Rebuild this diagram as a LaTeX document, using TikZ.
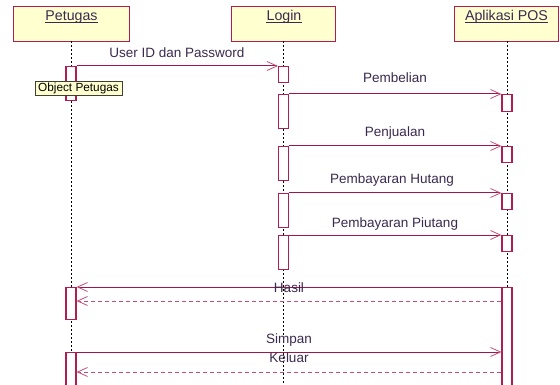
\documentclass[tikz,border=0pt]{standalone}
\usepackage{fontspec}
\setmainfont{Liberation Sans}
\usetikzlibrary{arrows.meta}
\definecolor{boxborder}{HTML}{B01E50}
\definecolor{boxfill}{HTML}{FFFFD0}
\definecolor{msgline}{HTML}{A0164A}
\definecolor{retline}{HTML}{C0507A}
\definecolor{txt}{HTML}{3A2A50}
\definecolor{notebd}{HTML}{404030}
\begin{document}
\begin{tikzpicture}[x=1pt,y=-1pt,
 head/.style={draw=boxborder, fill=boxfill, line width=1.2pt, minimum height=35pt, inner sep=0, anchor=north west},
 title/.style={text=txt, font=\fontsize{14.2}{16}\selectfont, inner sep=0, anchor=base},
 life/.style={draw=black, line width=0.9pt, dash pattern=on 2pt off 2pt},
 act/.style={draw=boxborder, fill=white, line width=1.1pt, minimum width=10pt, inner sep=0, anchor=north},
 tipx/.style={-{Straight Barb[length=10pt,width=9pt,line width=0.8pt,color=retline]}},
 msg/.style={draw=msgline, line width=1pt, tipx},
 ret/.style={draw=retline, line width=1pt, dash pattern=on 4pt off 3pt, tipx},
 lbl/.style={text=txt, font=\fontsize{13.5}{16}\selectfont, inner sep=0, anchor=base},
 notebox/.style={draw=notebd, fill=boxfill, line width=0.8pt, minimum width=87pt, minimum height=14pt, inner sep=0, font=\fontsize{11.8}{13}\selectfont, text=black}
]
\useasboundingbox (0,0) rectangle (560,385);
\fill[white] (0,0) rectangle (560,385);
% heads
\node[head, minimum width=116pt] (hp) at (13,6) {};
\node[head, minimum width=104pt] (hl) at (231,6) {};
\node[head, minimum width=104pt] (ha) at (454,6) {};
\node[title] (tp) at (71.5,21) {Petugas};
\node[title] (tl) at (284,21) {Login};
\node[title] (ta) at (506.5,21) {Aplikasi POS};
\foreach \t in {tp,tl,ta}{
  \draw[txt, line width=0.7pt] ([yshift=-1.2pt]\t.base west) -- ([yshift=-1.2pt]\t.base east);
}
% lifelines
\coordinate (bot) at (0,395);
\coordinate (lp) at (71,41);
\coordinate (ll) at (283.5,41);
\coordinate (la) at (507,41);
\draw[life] (lp) -- (lp |- bot);
\draw[life] (ll) -- (ll |- bot);
\draw[life] (la) -- (la |- bot);
% activations
\node[act, minimum height=34pt] (pa1) at (71,66) {};
\node[act, minimum height=32pt] (pa2) at (71,287) {};
\node[act, minimum height=45pt] (pa3) at (71,352) {};
\node[act, minimum height=16pt] (la1) at (283.5,66) {};
\node[act, minimum height=34pt] (la2) at (283.5,94) {};
\node[act, minimum height=34pt] (la3) at (283.5,146) {};
\node[act, minimum height=34pt] (la4) at (283.5,193) {};
\node[act, minimum height=34pt] (la5) at (283.5,235) {};
\node[act, minimum height=17pt] (pb1) at (507,94) {};
\node[act, minimum height=16pt] (pb2) at (507,146) {};
\node[act, minimum height=16pt] (pb3) at (507,193) {};
\node[act, minimum height=16pt] (pb4) at (507,235) {};
\node[act, minimum height=110pt] (pb5) at (507,287) {};
% note
\node[notebox] (note) at (78.5,88) {Object Petugas};
% messages
\draw[msg] (pa1.north east) -- (la1.north west);
\node[lbl] (m1) at (177,58) {User ID dan Password};
\draw[msg] (la2.north east) -- (pb1.north west);
\node[lbl] (m2) at (395,83) {Pembelian};
\draw[msg] (la3.north east) -- (pb2.north west);
\node[lbl] (m3) at (395,137) {Penjualan};
\draw[msg] (la4.north east) -- (pb3.north west);
\node[lbl] (m4) at (392,184) {Pembayaran Hutang};
\draw[msg] (la5.north east) -- (pb4.north west);
\node[lbl] (m5) at (395,227) {Pembayaran Piutang};
\draw[msg] (pb5.north west) -- (pa2.north east);
\node[lbl] (m6) at (289,292) {Hasil};
\coordinate (r1) at (0,301);
\draw[ret] (pb5.west |- r1) -- (pa2.east |- r1);
\draw[msg] (pa3.north east) -- (pb5.west |- pa3.north);
\node[lbl] (m7) at (289,343) {Simpan};
\node[lbl] (m8) at (289,362) {Keluar};
\coordinate (r2) at (0,372);
\draw[ret] (pb5.west |- r2) -- (pa3.east |- r2);
\end{tikzpicture}
\end{document}
